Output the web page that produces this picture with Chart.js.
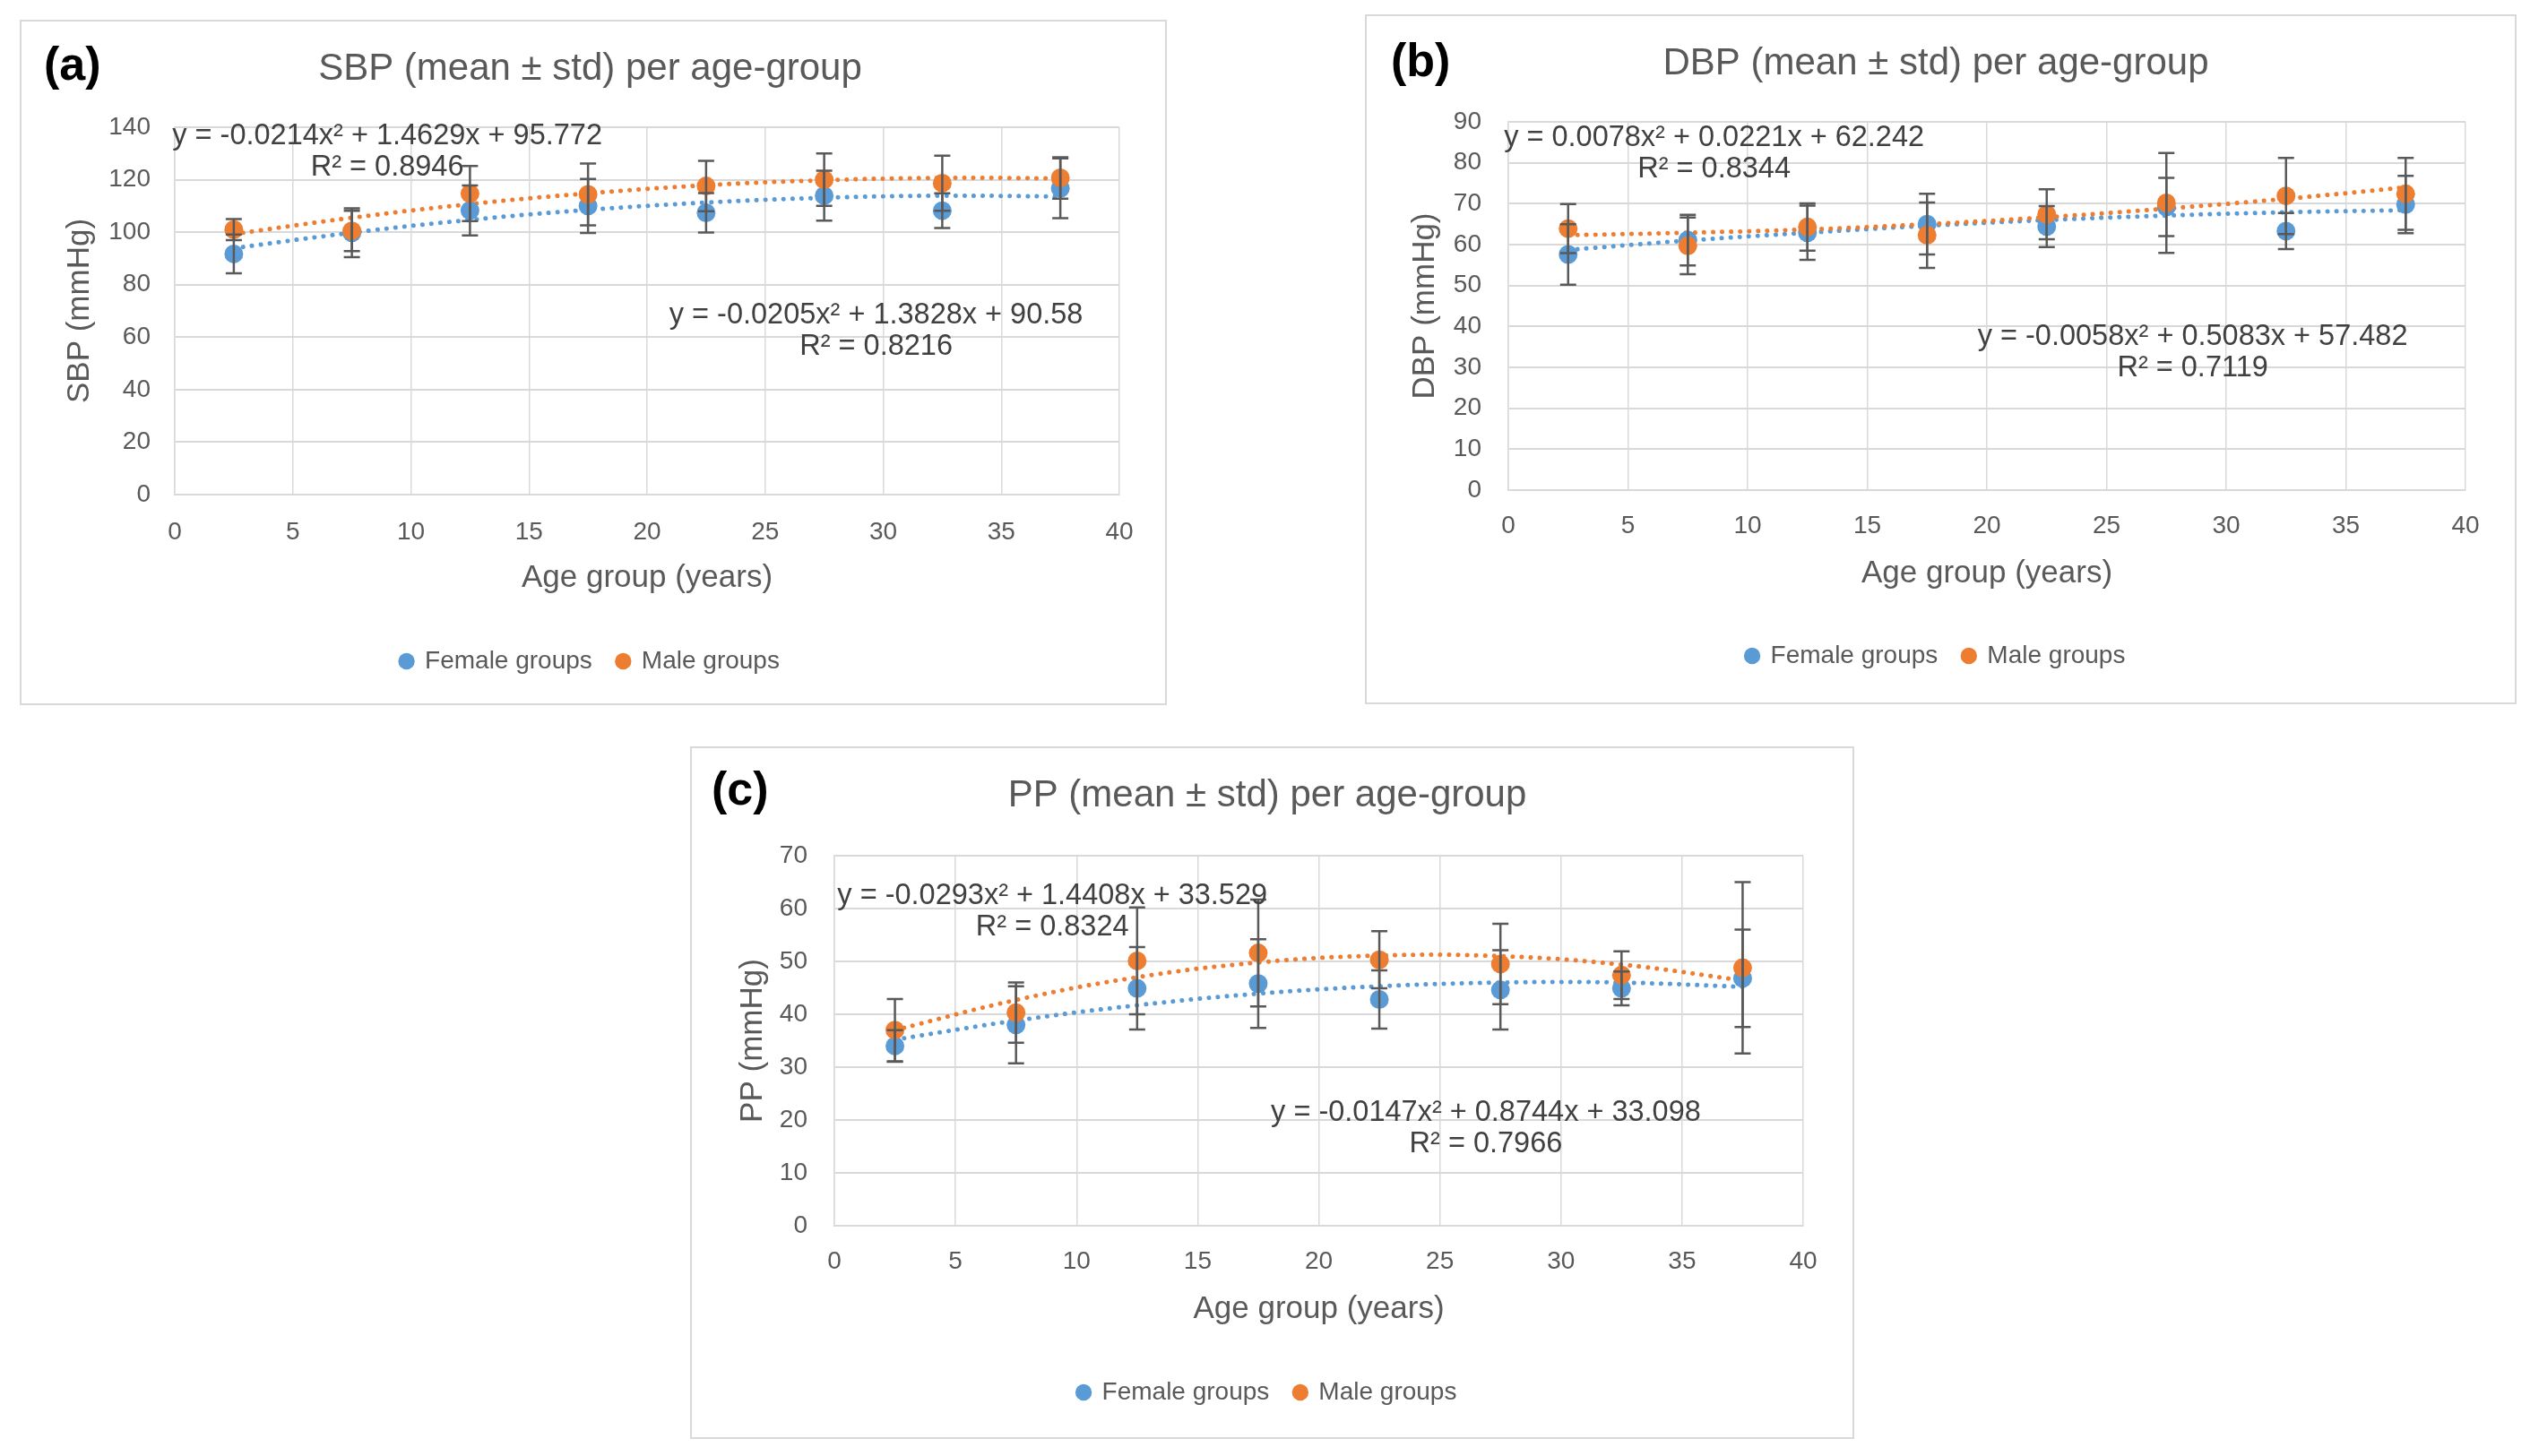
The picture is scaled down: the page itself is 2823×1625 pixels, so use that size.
<!DOCTYPE html>
<html>
<head>
<meta charset="utf-8">
<script src="https://cdn.jsdelivr.net/npm/chart.js@4.4.1/dist/chart.umd.min.js"></script>
<style>
  body { margin: 0; background: #fff; width: 2823px; height: 1625px; position: relative; overflow: hidden; }
  .frame { position: absolute; box-sizing: border-box; border: 2px solid #d9d9d9; }
  canvas { position: absolute; }
</style>
</head>
<body>
<script>
// x values: midpoints of the 5-year age groups
const ageGroups = [2.5, 7.5, 12.5, 17.5, 22.5, 27.5, 32.5, 37.5];

// (a) SBP mean / std, and the trend values
const sbpFemale = [91.7, 99.8, 108.3, 110.0, 107.4, 113.9, 108.2, 116.7];
const sbpFemaleSd = [7.4, 9.3, 9.5, 10.3, 7.5, 9.5, 6.6, 11.4];
const sbpMale = [101.0, 100.5, 114.7, 114.4, 117.6, 120.0, 118.7, 120.7];
const sbpMaleSd = [4.0, 7.7, 10.5, 11.8, 9.6, 10.0, 10.5, 7.9];
const sbpFemaleTrend = [93.9, 99.8, 104.7, 108.5, 111.3, 113.1, 113.9, 113.6];
const sbpMaleTrend = [99.3, 105.5, 110.7, 114.8, 117.9, 119.8, 120.7, 120.5];

// (b) DBP
const dbpFemale = [57.6, 61.1, 62.9, 65.0, 64.4, 69.2, 63.3, 69.8];
const dbpFemaleSd = [7.4, 6.2, 6.6, 7.4, 5.0, 7.1, 4.4, 7.0];
const dbpMale = [63.9, 59.7, 64.3, 62.3, 67.4, 70.2, 71.9, 72.4];
const dbpMaleSd = [6.0, 6.9, 5.8, 8.0, 6.1, 12.2, 9.3, 8.8];
const dbpFemaleTrend = [58.7, 61.0, 62.9, 64.6, 66.0, 67.1, 67.9, 68.4];
const dbpMaleTrend = [62.3, 62.9, 63.7, 65.0, 66.7, 68.8, 71.2, 74.0];

// (c) PP
const ppFemale = [34.0, 38.0, 44.9, 45.8, 42.8, 44.6, 44.9, 46.8];
const ppFemaleSd = [3.0, 7.3, 7.8, 8.4, 5.5, 7.5, 3.2, 9.2];
const ppMale = [37.0, 40.3, 50.1, 51.6, 50.3, 49.5, 47.4, 48.8];
const ppMaleSd = [5.9, 5.7, 10.1, 10.1, 5.4, 7.6, 4.5, 16.2];
const ppFemaleTrend = [35.2, 38.8, 41.7, 43.9, 45.3, 46.0, 46.0, 45.2];
const ppMaleTrend = [37.0, 42.7, 47.0, 49.8, 51.1, 51.0, 49.4, 46.4];

// trendline equations as printed on the chart
const sbpEquations = [['y = -0.0214x² + 1.4629x + 95.772', 'R² = 0.8946'], ['y = -0.0205x² + 1.3828x + 90.58', 'R² = 0.8216']];
const dbpEquations = [['y = 0.0078x² + 0.0221x + 62.242', 'R² = 0.8344'], ['y = -0.0058x² + 0.5083x + 57.482', 'R² = 0.7119']];
const ppEquations = [['y = -0.0293x² + 1.4408x + 33.529', 'R² = 0.8324'], ['y = -0.0147x² + 0.8744x + 33.098', 'R² = 0.7966']];

const BLUE = '#5b9bd5';
const ORANGE = '#ed7d31';
const GRID = '#d9d9d9';
const TEXT = '#595959';
const FONT = '"Liberation Sans", Arial, sans-serif';

Chart.defaults.font.family = FONT;

const pts = vals => vals.map((v, i) => ({ x: ageGroups[i], y: v }));

// vertical error bars with caps, drawn on top of the markers
const errorBarPlugin = {
  id: 'errorBars',
  afterDatasetsDraw(chart, args, opts) {
    const ctx = chart.ctx;
    const y = chart.scales.y;
    ctx.save();
    ctx.strokeStyle = '#595959';
    ctx.lineWidth = 2.5;
    opts.sets.forEach(set => {
      const meta = chart.getDatasetMeta(set.index);
      meta.data.forEach((pt, i) => {
        const top = y.getPixelForValue(set.mean[i] + set.sd[i]);
        const bot = y.getPixelForValue(set.mean[i] - set.sd[i]);
        ctx.beginPath();
        ctx.moveTo(pt.x, top); ctx.lineTo(pt.x, bot);
        ctx.moveTo(pt.x - 9, top); ctx.lineTo(pt.x + 9, top);
        ctx.moveTo(pt.x - 9, bot); ctx.lineTo(pt.x + 9, bot);
        ctx.stroke();
      });
    });
    ctx.restore();
  }
};

// panel letter and the equation labels
const panelTextPlugin = {
  id: 'panelText',
  afterDraw(chart, args, opts) {
    const { ctx, scales: { x, y } } = chart;
    ctx.save();
    ctx.fillStyle = '#000';
    ctx.font = 'bold 52px ' + FONT;
    ctx.textAlign = 'left';
    ctx.textBaseline = 'middle';
    ctx.fillText(opts.letter, opts.letterX, opts.letterY);
    ctx.fillStyle = '#404040';
    ctx.font = '32.5px ' + FONT;
    ctx.textAlign = 'center';
    opts.labels.forEach(lab => {
      const px = x.getPixelForValue(lab.x);
      const py = y.getPixelForValue(lab.y);
      lab.lines.forEach((line, k) => ctx.fillText(line, px, py + k * 35));
    });
    ctx.restore();
  }
};

const LEGEND_FONT = 28;
const LEGEND_PAD = 28;

function buildPanel(p) {
  const frame = document.createElement('div');
  frame.className = 'frame';
  Object.assign(frame.style, { left: p.left + 'px', top: p.top + 'px', width: p.w + 'px', height: p.h + 'px' });
  document.body.appendChild(frame);

  const canvas = document.createElement('canvas');
  canvas.width = p.w;
  canvas.height = p.h;
  Object.assign(canvas.style, { left: p.left + 'px', top: p.top + 'px', width: p.w + 'px', height: p.h + 'px' });
  document.body.appendChild(canvas);

  const padL = 46;
  const padR = p.w - p.plot.r;
  const legendH = LEGEND_FONT + LEGEND_PAD + 10;
  const xAxisH = p.legendGap - (LEGEND_PAD + LEGEND_FONT / 2);
  const padB = p.h - p.plot.b - xAxisH - legendH;
  const titleLH = 42 * 1.2;
  const axisTitleLH = 35 * 1.2;

  new Chart(canvas, {
    type: 'scatter',
    data: {
      datasets: [
        { label: 'Female groups', data: pts(p.female), backgroundColor: BLUE, borderColor: BLUE,
          borderWidth: 0, pointRadius: 10.5, order: 2 },
        { label: 'Male groups', data: pts(p.male), backgroundColor: ORANGE, borderColor: ORANGE,
          borderWidth: 0, pointRadius: 10.5, order: 1 },
        { label: 'trend f', data: pts(p.femaleTrend), showLine: true, borderColor: BLUE, borderWidth: 5,
          borderDash: [0.1, 10], borderCapStyle: 'round', pointRadius: 0, tension: 0.4, order: 4 },
        { label: 'trend m', data: pts(p.maleTrend), showLine: true, borderColor: ORANGE, borderWidth: 5,
          borderDash: [0.1, 10], borderCapStyle: 'round', pointRadius: 0, tension: 0.4, order: 3 }
      ]
    },
    options: {
      responsive: false,
      animation: false,
      devicePixelRatio: 1,
      events: [],
      layout: { padding: { left: padL, right: padR, top: 0, bottom: padB } },
      plugins: {
        title: {
          display: true, text: p.title, color: TEXT,
          font: { size: 42, weight: 'normal' },
          padding: { top: p.titleY - titleLH / 2, bottom: p.plot.t - p.titleY - titleLH / 2 }
        },
        legend: {
          position: 'bottom',
          labels: {
            usePointStyle: true, pointStyle: 'circle', boxWidth: 13, boxHeight: 13,
            padding: LEGEND_PAD, color: TEXT, font: { size: LEGEND_FONT },
            filter: item => item.datasetIndex < 2,
            sort: (a, b) => a.datasetIndex - b.datasetIndex
          }
        },
        tooltip: { enabled: false },
        errorBars: {
          sets: [
            { index: 0, mean: p.female, sd: p.femaleSd },
            { index: 1, mean: p.male, sd: p.maleSd }
          ]
        },
        panelText: { letter: p.letter, letterX: p.letterX, letterY: p.letterY, labels: p.labels }
      },
      scales: {
        x: {
          type: 'linear', min: 0, max: 40,
          ticks: { stepSize: 5, padding: p.tickGap - 16.8, color: TEXT, font: { size: 28 } },
          grid: { color: GRID, lineWidth: 1.5, drawTicks: false },
          border: { color: GRID, width: 2 },
          title: { display: true, text: 'Age group (years)', color: TEXT, font: { size: 35 },
            padding: { top: 0, bottom: xAxisH - axisTitleLH / 2 - p.xTitleGap } },
          afterFit: s => { s.height = xAxisH; }
        },
        y: {
          type: 'linear', min: 0, max: p.yMax,
          ticks: { stepSize: p.yStep, padding: p.yTickPad, color: TEXT, font: { size: 28 } },
          grid: { color: GRID, lineWidth: 2, drawTicks: false },
          border: { color: GRID, width: 1.5 },
          title: { display: true, text: p.yTitle, color: TEXT, font: { size: 35 },
            padding: { top: Math.max(0, p.yTitleX - padL - axisTitleLH / 2), bottom: 0 } },
          afterFit: s => { s.width = p.plot.l - padL; }
        }
      }
    },
    plugins: [errorBarPlugin, panelTextPlugin]
  });
}

buildPanel({
  left: 22, top: 22, w: 1280, h: 765,
  plot: { l: 173, t: 120, r: 1227, b: 530 },
  titleY: 55, tickGap: 42, xTitleGap: 93, legendGap: 186, yTitleX: 67, yTickPad: 27,
  title: 'SBP (mean ± std) per age-group', yTitle: 'SBP (mmHg)', yMax: 140, yStep: 20,
  letter: '(a)', letterX: 27, letterY: 53,
  female: sbpFemale, femaleSd: sbpFemaleSd, male: sbpMale, maleSd: sbpMaleSd,
  femaleTrend: sbpFemaleTrend, maleTrend: sbpMaleTrend,
  labels: [
    { x: 9.0, y: 136.5, lines: sbpEquations[0] },
    { x: 29.7, y: 68.3, lines: sbpEquations[1] }
  ]
});

buildPanel({
  left: 1523, top: 16, w: 1285, h: 770,
  plot: { l: 160, t: 120, r: 1228, b: 531 },
  titleY: 55, tickGap: 40, xTitleGap: 93, legendGap: 185, yTitleX: 66, yTickPad: 30,
  title: 'DBP (mean ± std) per age-group', yTitle: 'DBP (mmHg)', yMax: 90, yStep: 10,
  letter: '(b)', letterX: 29, letterY: 55,
  female: dbpFemale, femaleSd: dbpFemaleSd, male: dbpMale, maleSd: dbpMaleSd,
  femaleTrend: dbpFemaleTrend, maleTrend: dbpMaleTrend,
  labels: [
    { x: 8.6, y: 86.1, lines: dbpEquations[0] },
    { x: 28.6, y: 37.5, lines: dbpEquations[1] }
  ]
});

buildPanel({
  left: 770, top: 833, w: 1299, h: 773,
  plot: { l: 161, t: 122, r: 1242, b: 535 },
  titleY: 55, tickGap: 40, xTitleGap: 93, legendGap: 186, yTitleX: 70, yTickPad: 30,
  title: 'PP (mean ± std) per age-group', yTitle: 'PP (mmHg)', yMax: 70, yStep: 10,
  letter: '(c)', letterX: 24, letterY: 51,
  female: ppFemale, femaleSd: ppFemaleSd, male: ppMale, maleSd: ppMaleSd,
  femaleTrend: ppFemaleTrend, maleTrend: ppMaleTrend,
  labels: [
    { x: 9.0, y: 62.3, lines: ppEquations[0] },
    { x: 26.9, y: 21.4, lines: ppEquations[1] }
  ]
});
</script>
</body>
</html>
